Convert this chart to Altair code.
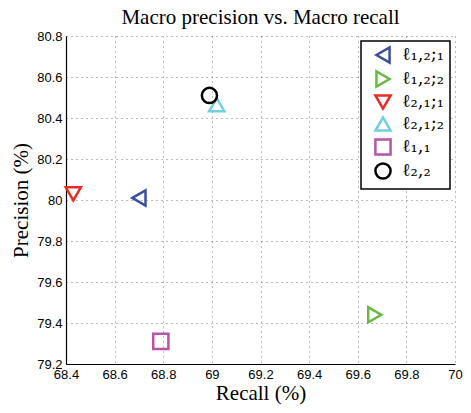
import altair as alt
import pandas as pd

labels = ["ℓ₁,₂;₁", "ℓ₁,₂;₂", "ℓ₂,₁;₁", "ℓ₂,₁;₂", "ℓ₁,₁", "ℓ₂,₂"]
recall = [68.70, 69.67, 68.43, 69.02, 68.79, 68.99]
precision = [80.01, 79.44, 80.03, 80.465, 79.31, 80.51]
shapes = ["triangle-left", "triangle-right", "triangle-down", "triangle-up", "square", "circle"]
colors = ["#3a4fa3", "#69b946", "#ee2a24", "#72cfdd", "#b854a6", "#000000"]
sizes = [230, 230, 230, 230, 110, 170]

x_ticks = [68.4, 68.6, 68.8, 69.0, 69.2, 69.4, 69.6, 69.8, 70.0]
y_ticks = [79.2, 79.4, 79.6, 79.8, 80.0, 80.2, 80.4, 80.6, 80.8]

df = pd.DataFrame({"method": labels, "recall": recall, "precision": precision})

serif = "Liberation Serif"
sans = "Liberation Sans"

chart = alt.Chart(df).mark_point(filled=False, strokeWidth=2.5, opacity=1).encode(
    x=alt.X("recall:Q", title="Recall (%)",
            scale=alt.Scale(domain=[68.4, 70.0], nice=False, zero=False),
            axis=alt.Axis(values=x_ticks, format=".1~f")),
    y=alt.Y("precision:Q", title="Precision (%)",
            scale=alt.Scale(domain=[79.2, 80.8], nice=False, zero=False),
            axis=alt.Axis(values=y_ticks, format=".1~f")),
    shape=alt.Shape("method:N", sort=labels,
                    scale=alt.Scale(domain=labels, range=shapes),
                    legend=alt.Legend(title=None)),
    color=alt.Color("method:N", sort=labels,
                    scale=alt.Scale(domain=labels, range=colors),
                    legend=alt.Legend(title=None)),
    size=alt.Size("method:N", sort=labels,
                  scale=alt.Scale(domain=labels, range=sizes), legend=None),
).properties(
    width=389, height=328,
    title=alt.TitleParams("Macro precision vs. Macro recall", font=serif, fontSize=21,
                          fontWeight="normal", color="black", offset=2),
    autosize=alt.AutoSizeParams(type="none"),
    padding={"left": 58, "top": 28, "right": 8, "bottom": 41},
).configure_view(stroke=None).configure_axis(
    labelFont=sans, labelFontSize=13, labelColor="black",
    labelFlush=False, labelOverlap=False,
    titleFont=serif, titleFontSize=21, titleFontWeight="normal", titleColor="black",
    domainColor="black", domainWidth=1.2,
    ticks=False, labelPadding=4,
    grid=True, gridColor="#555", gridDash=[1, 4], gridWidth=1, gridOpacity=0.8,
).configure_axisX(titlePadding=1, labelPadding=4).configure_axisY(titlePadding=5).configure_legend(
    orient="top-right", offset=5,
    strokeColor="black", strokeWidth=1.5, fillColor="white",
    padding=5, rowPadding=-2,
    symbolSize=200, symbolStrokeWidth=2.5, symbolType="circle",
    labelFont="DejaVu Serif", labelFontSize=18, labelColor="black",
    labelOffset=10, symbolOffset=8,
)

chart.save("out.html", embed_options={"renderer": "svg", "actions": False})
